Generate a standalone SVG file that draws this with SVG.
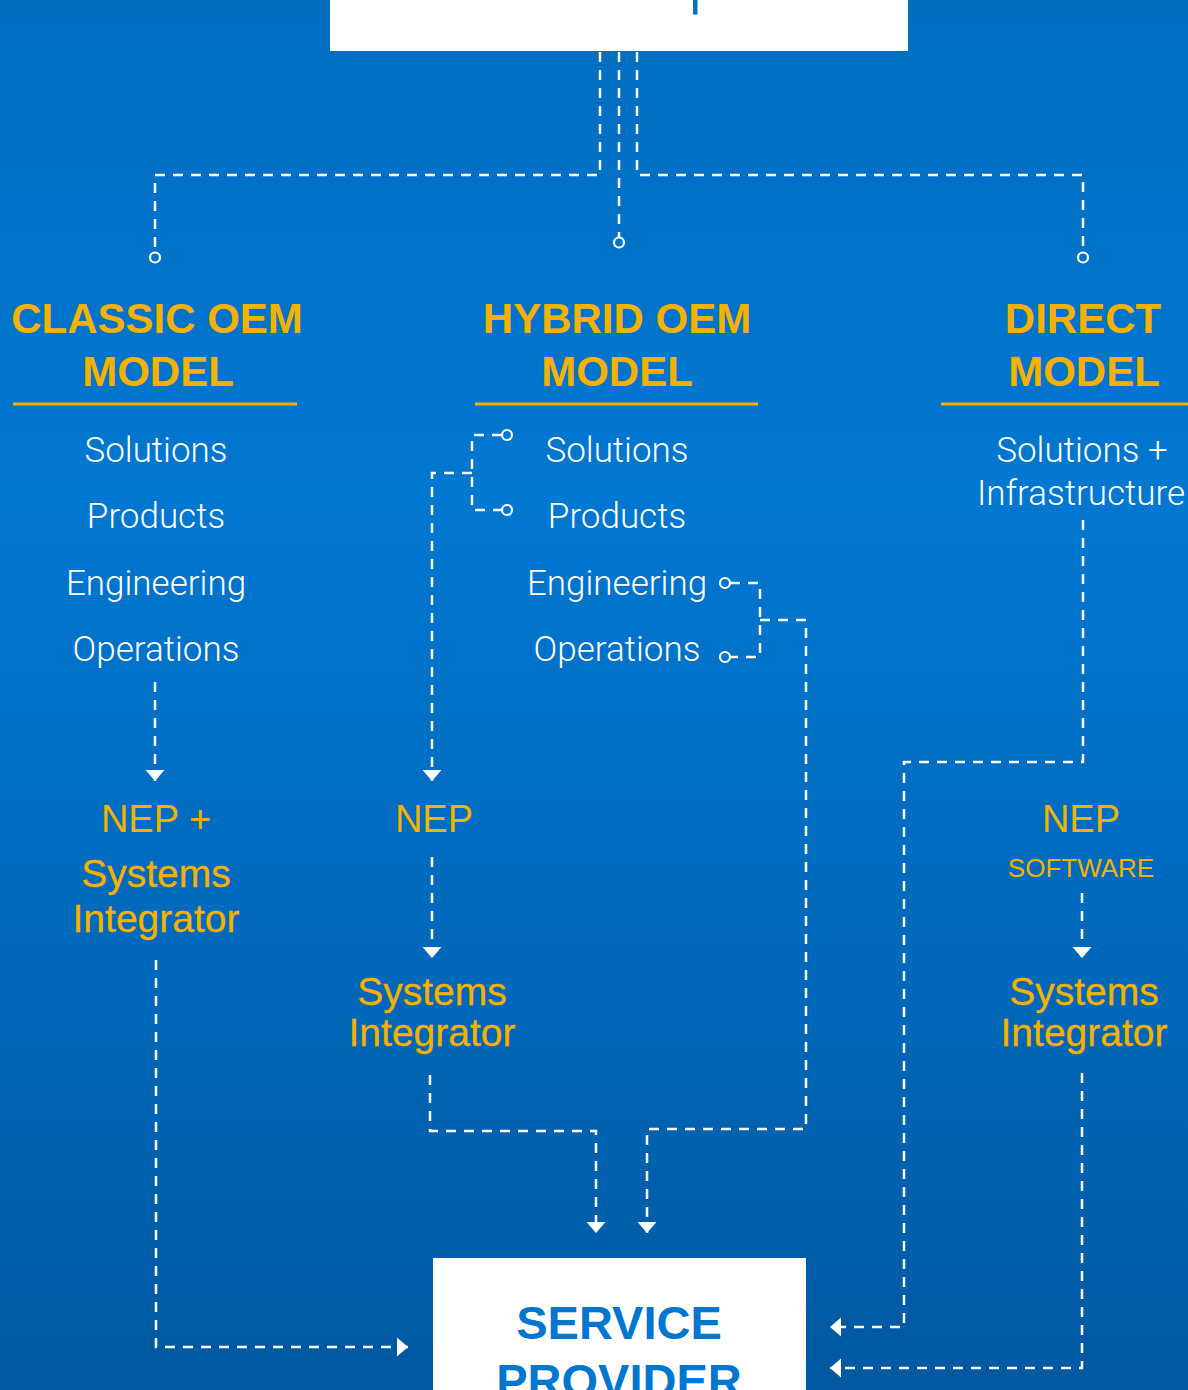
<svg xmlns="http://www.w3.org/2000/svg" width="1188" height="1390" viewBox="0 0 1188 1390">
<defs>
<linearGradient id="bg" x1="0" y1="0" x2="0" y2="1">
<stop offset="0" stop-color="#006DBF"/>
<stop offset="0.36" stop-color="#0077D0"/>
<stop offset="0.72" stop-color="#0067B8"/>
<stop offset="1" stop-color="#0058A0"/>
</linearGradient>
<marker id="arr" markerUnits="userSpaceOnUse" markerWidth="14" markerHeight="22" viewBox="-2 -11 14 22" refX="11" refY="0" orient="auto">
<path d="M0,-9.5 L11,0 L0,9.5 Z" fill="#FFFFFF"/>
</marker>
<style>
.hd{font-family:"Liberation Sans",Arial,sans-serif;font-weight:bold;font-size:42px;fill:#F5B100;text-anchor:middle}
.it{font-family:Roboto,"Liberation Sans",Arial,sans-serif;font-weight:300;font-size:35px;fill:#FFFFFF;text-anchor:middle}
.ye{font-family:"Liberation Sans",Arial,sans-serif;font-size:38px;fill:#F5B100;text-anchor:middle}
.si{font-family:"Liberation Sans",Arial,sans-serif;font-size:39px;fill:#F5B100;stroke:#F5B100;stroke-width:0.3;text-anchor:middle}
.sw{font-family:"Liberation Sans",Arial,sans-serif;font-size:26px;fill:#F5B100;text-anchor:middle}
.sp{font-family:"Liberation Sans",Arial,sans-serif;font-weight:bold;font-size:47px;fill:#0076CE;text-anchor:middle}
.ul{stroke:#F5B100;stroke-width:3}
.dl{fill:none;stroke:#FFFFFF;stroke-width:2.5;stroke-dasharray:10 8}
.da{fill:none;stroke:#FFFFFF;stroke-width:2.5;stroke-dasharray:10 8;marker-end:url(#arr)}
.ci{fill:none;stroke:#FFFFFF;stroke-width:2.2}
</style>
</defs>
<rect x="0" y="0" width="1188" height="1390" fill="url(#bg)"/>

<g id="top-box">
<rect x="330" y="0" width="578" height="51" fill="#FFFFFF"/>
<rect x="693" y="0" width="4.5" height="14.5" fill="#0070C0"/>
</g>

<g id="classic-oem">
<text class="hd" x="157" y="333">CLASSIC OEM</text>
<text class="hd" x="158" y="386">MODEL</text>
<line class="ul" x1="13" y1="404" x2="297" y2="404"/>
<text class="it" x="156" y="462">Solutions</text>
<text class="it" x="156" y="528">Products</text>
<text class="it" x="156" y="595">Engineering</text>
<text class="it" x="156" y="661">Operations</text>
</g>

<g id="hybrid-oem">
<text class="hd" x="617" y="333">HYBRID OEM</text>
<text class="hd" x="617" y="386">MODEL</text>
<line class="ul" x1="475" y1="404" x2="758" y2="404"/>
<text class="it" x="617" y="462">Solutions</text>
<text class="it" x="617" y="528">Products</text>
<text class="it" x="617" y="595">Engineering</text>
<text class="it" x="617" y="661">Operations</text>
</g>

<g id="direct-model">
<text class="hd" x="1083" y="333">DIRECT</text>
<text class="hd" x="1084" y="386">MODEL</text>
<line class="ul" x1="941" y1="404" x2="1188" y2="404"/>
<text class="it" x="1082" y="462">Solutions +</text>
<text class="it" x="1081" y="505">Infrastructure</text>
</g>

<g id="classic-nep-si">
<text class="ye" x="156" y="832">NEP +</text>
<text class="si" x="156" y="887">Systems</text>
<text class="si" x="156" y="932">Integrator</text>
</g>

<g id="hybrid-nep">
<text class="ye" x="434" y="832">NEP</text>
</g>

<g id="hybrid-si">
<text class="si" x="432" y="1005">Systems</text>
<text class="si" x="432" y="1046">Integrator</text>
</g>

<g id="direct-nep">
<text class="ye" x="1081" y="832">NEP</text>
<text class="sw" x="1081" y="877">SOFTWARE</text>
</g>

<g id="direct-si">
<text class="si" x="1084" y="1005">Systems</text>
<text class="si" x="1084" y="1046">Integrator</text>
</g>

<g id="service-provider">
<rect x="433" y="1258" width="373" height="140" fill="#FFFFFF"/>
<text class="sp" x="619" y="1339">SERVICE</text>
<text class="sp" x="619" y="1397">PROVIDER</text>
</g>

<g id="connectors">
<path class="dl" d="M600,52 V175 H155 V252"/>
<circle class="ci" cx="155" cy="257.5" r="5"/>
<path class="dl" d="M619,52 V237"/>
<circle class="ci" cx="619" cy="242.5" r="5"/>
<path class="dl" d="M637,52 V175 H1083 V252"/>
<circle class="ci" cx="1083" cy="257.5" r="5"/>

<path class="da" d="M155,682 V781"/>
<path class="da" d="M156,960 V1347 H408"/>

<circle class="ci" cx="507" cy="435" r="5"/>
<circle class="ci" cx="507" cy="510" r="5"/>
<path class="dl" d="M502,435 H472 V510 H502"/>
<path class="da" d="M472,473 H432 V781"/>

<circle class="ci" cx="725" cy="583" r="5"/>
<circle class="ci" cx="725" cy="657" r="5"/>
<path class="dl" d="M730,583 H760 V657 H730"/>
<path class="da" d="M760,620 H806 V1129 H647 V1233"/>

<path class="da" d="M432,857 V958"/>
<path class="da" d="M430,1075 V1131 H596 V1233"/>

<path class="da" d="M1083,520 V762 H904 V1327 H830"/>
<path class="da" d="M1082,893 V958"/>
<path class="da" d="M1082,1073 V1368 H830"/>
</g>
</svg>
